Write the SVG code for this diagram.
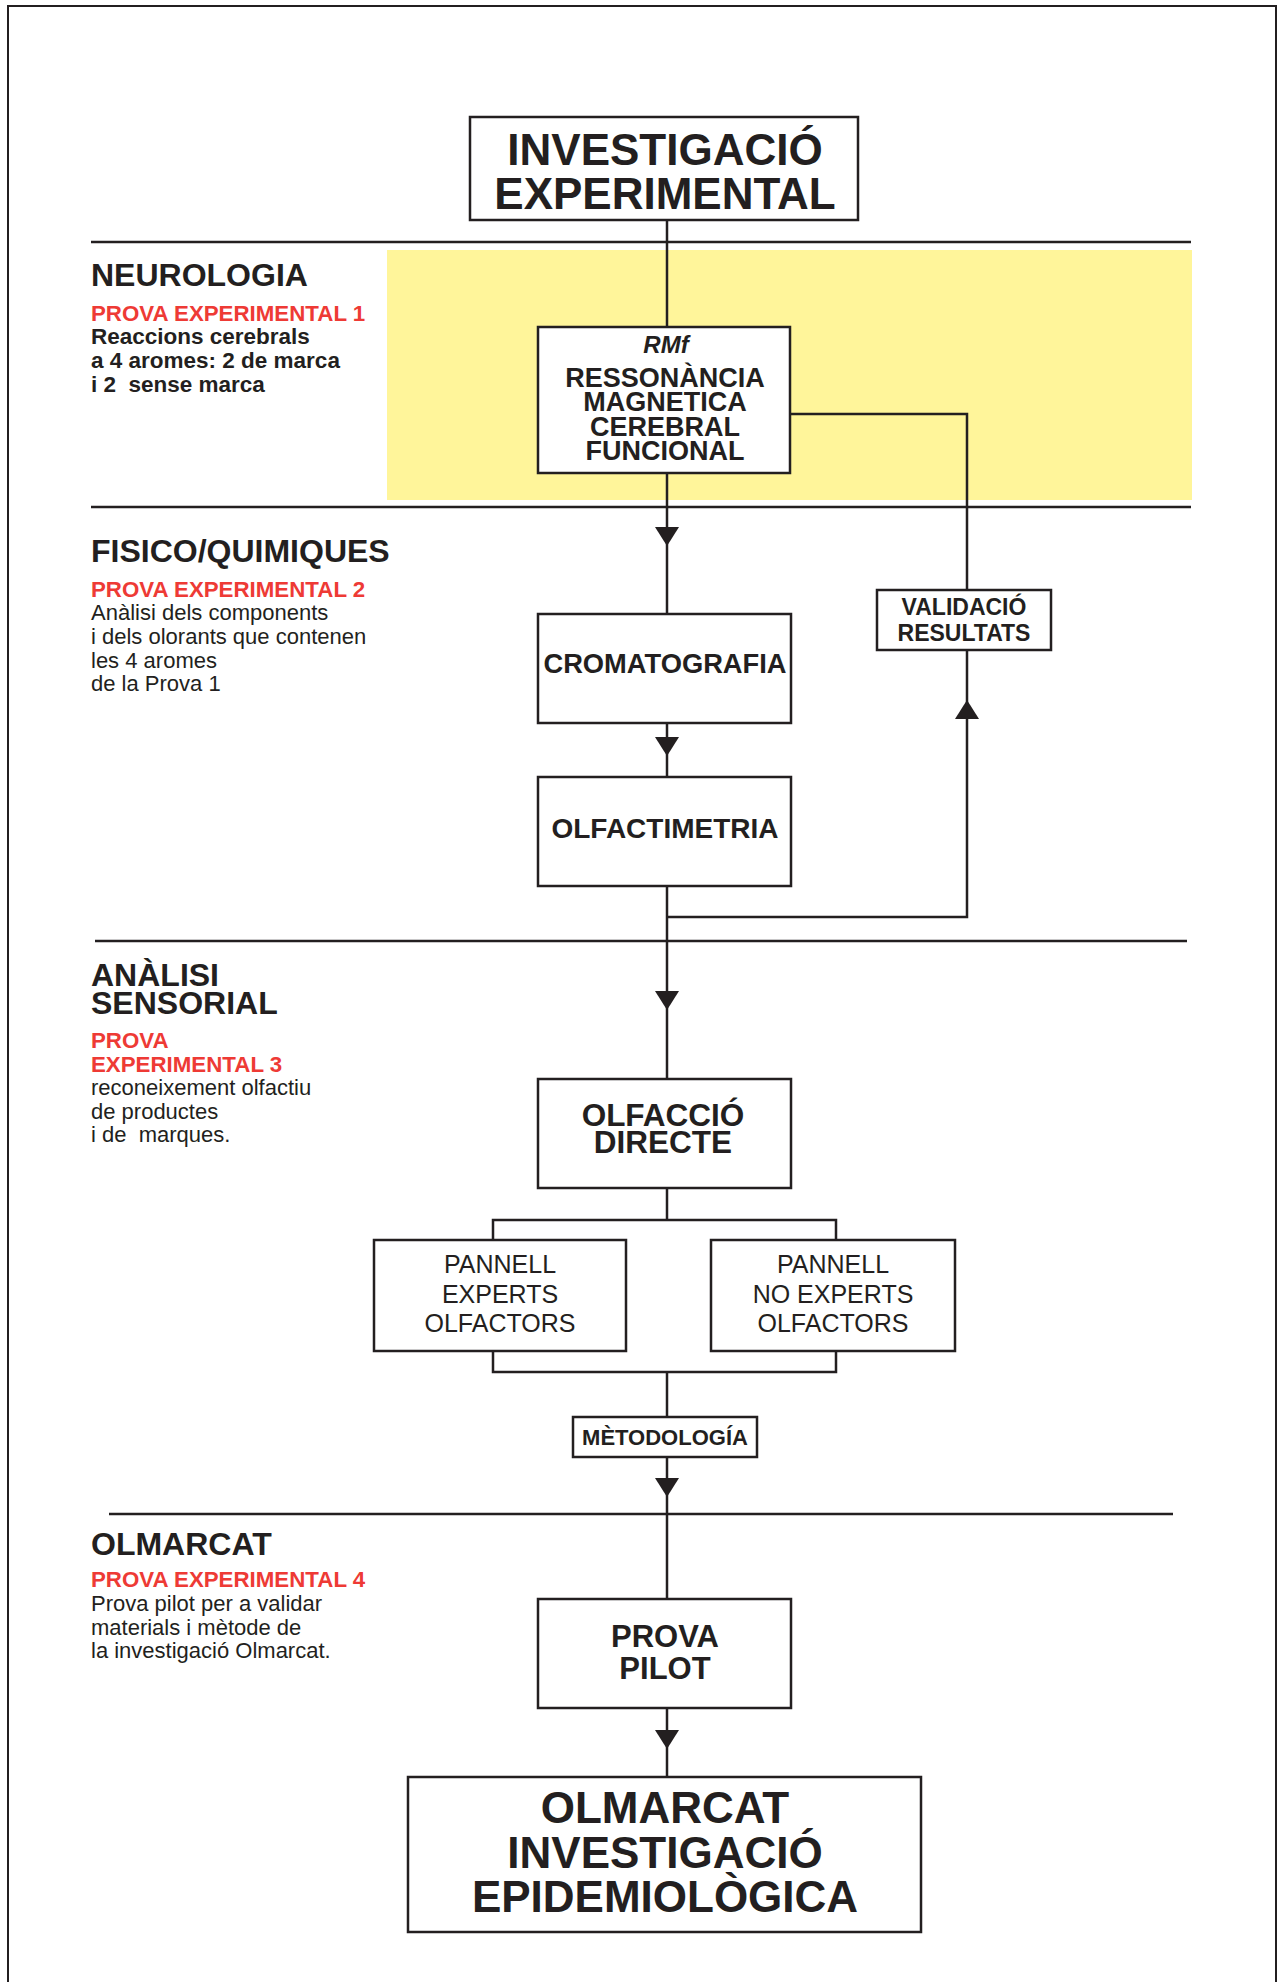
<svg xmlns="http://www.w3.org/2000/svg" xmlns:xlink="http://www.w3.org/1999/xlink" width="1279" height="1982" viewBox="0 0 1279 1982">
<defs>
<style>
text{font-family:"Liberation Sans",Arial,Helvetica,sans-serif;fill:#231f20}
.b{font-weight:bold}
.c{text-anchor:middle}
.sec{font-size:32px;font-weight:bold}
.red{font-size:22.3px;font-weight:bold;fill:#ee3a35}
.desc{font-size:22px}
.descb{font-size:22.5px;font-weight:bold}
.box{fill:#fff;stroke:#231f20;stroke-width:2.5}
.sep{stroke:#231f20;stroke-width:2.5;fill:none}
.ln{stroke:#231f20;stroke-width:2.5;fill:none}
</style>
<path id="arr" d="M-12,-19 L12,-19 L0,0 Z" fill="#231f20"/>
</defs>
<rect x="0" y="0" width="1279" height="1982" fill="#fff"/>
<rect x="8" y="6" width="1268" height="2000" fill="none" stroke="#231f20" stroke-width="2"/>
<rect x="387" y="250" width="805" height="250" fill="#fff59a"/>
<g id="separators">
<line class="sep" x1="91" y1="242" x2="1191" y2="242"/>
<line class="sep" x1="91" y1="507" x2="1191" y2="507"/>
<line class="sep" x1="95" y1="941" x2="1187" y2="941"/>
<line class="sep" x1="109" y1="1514" x2="1173" y2="1514"/>
</g>
<g id="sections">
<g id="sec-neurologia">
<text class="sec" x="91" y="286">NEUROLOGIA</text>
<text class="red" x="91" y="321">PROVA EXPERIMENTAL 1</text>
<text class="descb" x="91" y="344">Reaccions cerebrals</text>
<text class="descb" x="91" y="368">a 4 aromes: 2 de marca</text>
<text class="descb" x="91" y="392" xml:space="preserve">i 2  sense marca</text>
</g>
<g id="sec-fisico">
<text class="sec" x="91" y="562">FISICO/QUIMIQUES</text>
<text class="red" x="91" y="597">PROVA EXPERIMENTAL 2</text>
<text class="desc" x="91" y="620">Anàlisi dels components</text>
<text class="desc" x="91" y="644">i dels olorants que contenen</text>
<text class="desc" x="91" y="668">les 4 aromes</text>
<text class="desc" x="91" y="691">de la Prova 1</text>
</g>
<g id="sec-sensorial">
<text class="sec" x="91" y="986">ANÀLISI</text>
<text class="sec" x="91" y="1014">SENSORIAL</text>
<text class="red" x="91" y="1048">PROVA</text>
<text class="red" x="91" y="1072">EXPERIMENTAL 3</text>
<text class="desc" x="91" y="1095">reconeixement olfactiu</text>
<text class="desc" x="91" y="1119">de productes</text>
<text class="desc" x="91" y="1142" xml:space="preserve">i de  marques.</text>
</g>
<g id="sec-olmarcat">
<text class="sec" x="91" y="1555">OLMARCAT</text>
<text class="red" x="91" y="1587">PROVA EXPERIMENTAL 4</text>
<text class="desc" x="91" y="1611">Prova pilot per a validar</text>
<text class="desc" x="91" y="1635">materials i mètode de</text>
<text class="desc" x="91" y="1658">la investigació Olmarcat.</text>
</g>
</g>
<g id="connectors">
<line class="ln" x1="667" y1="220" x2="667" y2="327"/>
<line class="ln" x1="667" y1="473" x2="667" y2="614"/>
<use xlink:href="#arr" transform="translate(667,546)"/>
<polyline class="ln" points="790,414 967,414 967,590"/>
<polyline class="ln" points="967,650 967,917 667,917"/>
<use xlink:href="#arr" transform="translate(967,700) rotate(180)"/>
<line class="ln" x1="667" y1="723" x2="667" y2="777"/>
<use xlink:href="#arr" transform="translate(667,756)"/>
<line class="ln" x1="667" y1="886" x2="667" y2="1079"/>
<use xlink:href="#arr" transform="translate(667,1010)"/>
<line class="ln" x1="667" y1="1188" x2="667" y2="1220"/>
<polyline class="ln" points="493,1240 493,1220 836,1220 836,1240"/>
<polyline class="ln" points="493,1351 493,1372 836,1372 836,1351"/>
<line class="ln" x1="667" y1="1372" x2="667" y2="1417"/>
<line class="ln" x1="667" y1="1457" x2="667" y2="1599"/>
<use xlink:href="#arr" transform="translate(667,1497)"/>
<line class="ln" x1="667" y1="1708" x2="667" y2="1777"/>
<use xlink:href="#arr" transform="translate(667,1749)"/>
</g>
<g id="node-investigacio">
<rect class="box" x="470" y="117" width="388" height="103"/>
<text class="b c" x="665" y="165" font-size="44">INVESTIGACIÓ</text>
<text class="b c" x="665" y="209" font-size="44">EXPERIMENTAL</text>
</g>
<g id="node-rmf">
<rect class="box" x="538" y="327" width="252" height="146"/>
<text class="b c" x="666" y="353" font-size="24" font-style="italic">RMf</text>
<text class="b c" x="665" y="387" font-size="27">RESSONÀNCIA</text>
<text class="b c" x="665" y="411" font-size="27">MAGNETICA</text>
<text class="b c" x="665" y="436" font-size="27">CEREBRAL</text>
<text class="b c" x="665" y="460" font-size="27">FUNCIONAL</text>
</g>
<g id="node-cromatografia">
<rect class="box" x="538" y="614" width="253" height="109"/>
<text class="b c" x="665" y="673" font-size="27.3">CROMATOGRAFIA</text>
</g>
<g id="node-olfactimetria">
<rect class="box" x="538" y="777" width="253" height="109"/>
<text class="b c" x="665" y="838" font-size="28">OLFACTIMETRIA</text>
</g>
<g id="node-validacio">
<rect class="box" x="877" y="590" width="174" height="60" stroke-width="2"/>
<text class="b c" x="964" y="615" font-size="23">VALIDACIÓ</text>
<text class="b c" x="964" y="641" font-size="23">RESULTATS</text>
</g>
<g id="node-olfaccio">
<rect class="box" x="538" y="1079" width="253" height="109"/>
<text class="b c" x="663" y="1126" font-size="31.5">OLFACCIÓ</text>
<text class="b c" x="663" y="1153" font-size="31.5">DIRECTE</text>
</g>
<g id="node-pannell-experts">
<rect class="box" x="374" y="1240" width="252" height="111"/>
<text class="c" x="500" y="1273" font-size="25">PANNELL</text>
<text class="c" x="500" y="1303" font-size="25">EXPERTS</text>
<text class="c" x="500" y="1332" font-size="25">OLFACTORS</text>
</g>
<g id="node-pannell-no-experts">
<rect class="box" x="711" y="1240" width="244" height="111"/>
<text class="c" x="833" y="1273" font-size="25">PANNELL</text>
<text class="c" x="833" y="1303" font-size="25">NO EXPERTS</text>
<text class="c" x="833" y="1332" font-size="25">OLFACTORS</text>
</g>
<g id="node-metodologia">
<rect class="box" x="573" y="1417" width="184" height="40" stroke-width="1.5"/>
<text class="b c" x="665" y="1445" font-size="22">MÈTODOLOGÍA</text>
</g>
<g id="node-prova-pilot">
<rect class="box" x="538" y="1599" width="253" height="109"/>
<text class="b c" x="665" y="1647" font-size="31">PROVA</text>
<text class="b c" x="665" y="1679" font-size="31">PILOT</text>
</g>
<g id="node-olmarcat">
<rect class="box" x="408" y="1777" width="513" height="155"/>
<text class="b c" x="665" y="1823" font-size="44">OLMARCAT</text>
<text class="b c" x="665" y="1868" font-size="44">INVESTIGACIÓ</text>
<text class="b c" x="665" y="1912" font-size="44">EPIDEMIOLÒGICA</text>
</g>
</svg>
